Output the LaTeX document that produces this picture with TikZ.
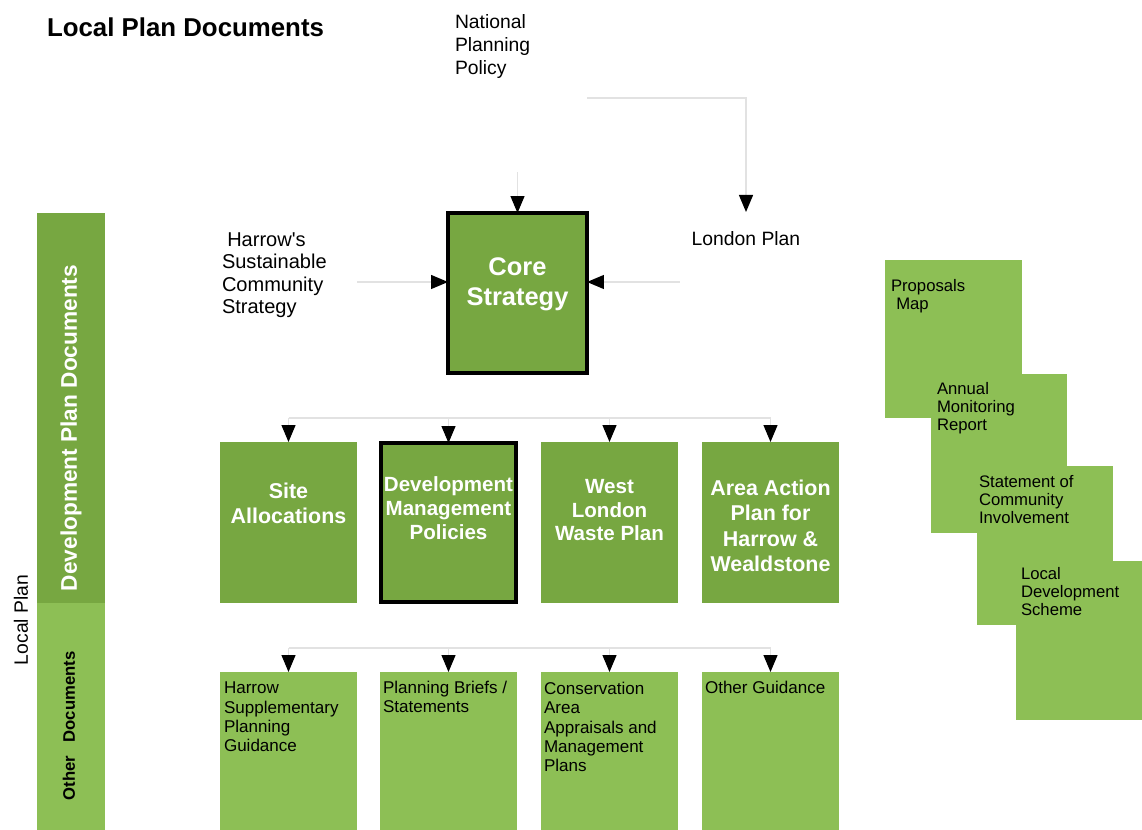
\documentclass[tikz,border=0pt]{standalone}
\usepackage{fontspec}
\setmainfont{Liberation Sans}
\usetikzlibrary{arrows.meta}
\definecolor{gmid}{HTML}{77A741}
\definecolor{glight}{HTML}{8DBF55}
\definecolor{connc}{HTML}{E2E2E2}
\begin{document}
\begin{tikzpicture}[x=0.02cm,y=-0.02cm,
  midbox/.style={fill=gmid, draw=none, inner sep=0pt, outer sep=0pt},
  litebox/.style={fill=glight, draw=none, inner sep=0pt, outer sep=0pt},
  thickbox/.style={fill=gmid, draw=black, line width=1.8pt, inner sep=0pt, outer sep=0pt},
  conn/.style={draw=connc, line width=0.7pt},
  arr/.style={conn, -{Triangle[width=0.28cm,length=0.34cm,color=black,fill=black]}},
  txt/.style={inner sep=0pt, outer sep=0pt, text=black, align=left},
  wtxt/.style={inner sep=0pt, outer sep=0pt, text=white, align=center},
  rowtwo/.style={wtxt, font=\fontsize{12.2}{14.4}\selectfont\bfseries},
  rowtwos/.style={wtxt, font=\fontsize{11.7}{13.6}\selectfont\bfseries},
  rowthree/.style={txt, anchor=north west, font=\fontsize{9.7}{11}\selectfont},
  sidetxt/.style={txt, anchor=north west, font=\fontsize{9.5}{10.5}\selectfont}
]
\useasboundingbox (0,0) rectangle (1142,830);

% title and outside texts
\node[txt, anchor=base west, font=\fontsize{14.7}{17.5}\selectfont\bfseries] (title) at (47,37) {Local Plan Documents};
\node[txt, anchor=north west, font=\fontsize{11}{13}\selectfont] (national) at (455,15) {National\\Planning\\Policy};
\node[txt, anchor=north west, font=\fontsize{11.4}{12.6}\selectfont] (harrow) at (222,233) {\hspace{3pt}Harrow\textquotesingle s\\Sustainable\\Community\\Strategy};
\node[txt, anchor=north, inner xsep=0pt, inner ysep=11.3pt, font=\fontsize{11}{13}\selectfont] (london) at (746,212) {London Plan};

% left bar
\node[midbox, minimum width=1.36cm, minimum height=7.8cm] (bardev) at (71,408) {};
\node[litebox, minimum width=1.36cm, minimum height=4.54cm] (barother) at (71,716.5) {};
\node[wtxt, rotate=90, font=\fontsize{12.9}{15}\selectfont\bfseries] (dpd) at (71,428) {Development Plan Documents};
\node[txt, rotate=90, font=\fontsize{9.5}{11}\selectfont\bfseries] (od) at (69,726) {Other\hspace{0.8em}Documents};
\node[txt, rotate=90, font=\fontsize{11}{13}\selectfont] (localplan) at (21,620) {Local Plan};

% core strategy
\node[thickbox, minimum width=2.78cm, minimum height=3.2cm] (core) at (517.5,293) {};
\node[wtxt, anchor=north, font=\fontsize{14.5}{17}\selectfont\bfseries] (corelbl) at (517.5,258) {Core\\Strategy};

% row two
\node[midbox, minimum width=2.74cm, minimum height=3.22cm] (site) at (288.5,522.5) {};
\node[thickbox, minimum width=2.70cm, minimum height=3.18cm] (dmp) at (448.5,522.5) {};
\node[midbox, minimum width=2.74cm, minimum height=3.22cm] (wlwp) at (609.5,522.5) {};
\node[midbox, minimum width=2.74cm, minimum height=3.22cm] (aap) at (770.5,522.5) {};
\node[rowtwo, anchor=north] (sitelbl) at (288.5,483) {Site\\Allocations};
\node[rowtwos, anchor=north] (dmplbl) at (448.5,477) {Development\\Management\\Policies};
\node[rowtwos, anchor=north] (wlwplbl) at (609.5,479) {West\\London\\Waste Plan};
\node[rowtwo, anchor=north] (aaplbl) at (770.5,480) {Area Action\\Plan for\\Harrow \&\\Wealdstone};

% row three
\node[litebox, minimum width=2.74cm, minimum height=3.16cm] (hspg) at (288.5,751) {};
\node[litebox, minimum width=2.74cm, minimum height=3.16cm] (pbs) at (448.5,751) {};
\node[litebox, minimum width=2.74cm, minimum height=3.16cm] (caa) at (609.5,751) {};
\node[litebox, minimum width=2.74cm, minimum height=3.16cm] (og) at (770.5,751) {};
\node[rowthree] (hspglbl) at (224,682) {Harrow\\Supplementary\\Planning\\Guidance};
\node[rowthree] (pbslbl) at (383,681) {Planning Briefs /\\Statements};
\node[rowthree] (caalbl) at (544,682) {Conservation\\Area\\Appraisals and\\Management\\Plans};
\node[rowthree] (oglbl) at (705,681) {Other Guidance};

% right stacked boxes
\node[litebox, minimum width=2.74cm, minimum height=3.16cm] (pm) at (953.5,339) {};
\node[litebox, minimum width=2.72cm, minimum height=3.18cm] (amr) at (999,453.5) {};
\node[litebox, minimum width=2.72cm, minimum height=3.18cm] (sci) at (1045,545.5) {};
\node[litebox, minimum width=2.52cm, minimum height=3.18cm] (lds) at (1079,640.5) {};
\node[sidetxt] (pmlbl) at (891,279) {Proposals\\\hspace{3pt}Map};
\node[sidetxt] (amrlbl) at (937,382) {Annual\\Monitoring\\Report};
\node[sidetxt] (scilbl) at (979,475) {Statement of\\Community\\Involvement};
\node[sidetxt] (ldslbl) at (1021,567) {Local\\Development\\Scheme};

% connectors into core and London plan
\coordinate (npA) at (587,98);
\draw[arr] (npA) -| (london.north);
\coordinate (npB) at (517.5,172);
\draw[arr] (npB) -- (core.north);
\coordinate (hA) at (357,282);
\draw[arr] (hA) -- (hA -| core.west);
\coordinate (lA) at (680,282);
\draw[arr] (lA) -- (lA -| core.east);

% bus to row two
\coordinate (busA) at (288.5,418);
\coordinate (busB) at (770.5,418);
\draw[conn] (busA) -- (busB);
\foreach \n in {site,dmp,wlwp,aap}
  \draw[arr] (busA -| \n.north) -- (\n.north);

% bus to row three
\coordinate (busC) at (288.5,648);
\coordinate (busD) at (770.5,648);
\draw[conn] (busC) -- (busD);
\foreach \n in {hspg,pbs,caa,og}
  \draw[arr] (busC -| \n.north) -- (\n.north);
\end{tikzpicture}
\end{document}
